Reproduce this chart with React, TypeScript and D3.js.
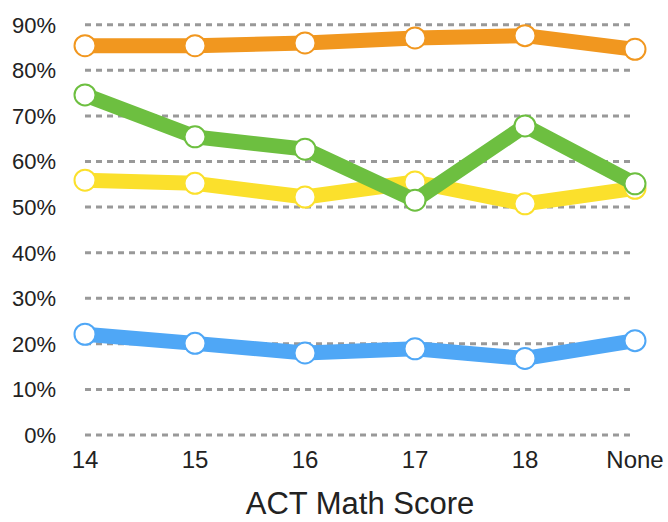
import * as d3 from 'd3';

const categories = ['14', '15', '16', '17', '18', 'None'];
const yTicks = [0, 0.1, 0.2, 0.3, 0.4, 0.5, 0.6, 0.7, 0.8, 0.9];

// series, drawn in this order
const blue = [0.221, 0.201, 0.18, 0.189, 0.168, 0.207];
const yellow = [0.559, 0.552, 0.522, 0.555, 0.507, 0.541];
const green = [0.746, 0.654, 0.627, 0.515, 0.678, 0.551];
const orange = [0.854, 0.854, 0.86, 0.871, 0.876, 0.846];

const seriesList = [
  { name: 'blue', color: '#4fa7f6', values: blue },
  { name: 'yellow', color: '#fbe02c', values: yellow },
  { name: 'green', color: '#6dbf40', values: green },
  { name: 'orange', color: '#f1971f', values: orange },
];

export default function App() {
  const width = 668;
  const height = 522;
  const font = '"Liberation Sans", Arial, sans-serif';

  const x = d3.scalePoint<string>().domain(categories).range([85, 635]);
  const y = d3.scaleLinear().domain([0, 0.9]).range([435, 24.7]);
  const fmt = d3.format('.0%');

  const line = d3
    .line<number>()
    .x((_, i) => x(categories[i])!)
    .y((d) => y(d));

  return (
    <svg
      width={width}
      height={height}
      style={{ position: 'absolute', left: 0, top: 0 }}
      fontFamily={font}
    >
      <rect width={width} height={height} fill='#fff' />
      {/* grid */}
      <g>
        {yTicks.map((t) => (
          <line
            key={t}
            x1={x.range()[0]}
            x2={x.range()[1]}
            y1={y(t)}
            y2={y(t)}
            stroke='#999'
            strokeWidth={3}
            strokeDasharray='6 5'
          />
        ))}
      </g>
      {/* y labels */}
      <g textAnchor='end' fontSize={22} fill='#222'>
        {yTicks.map((t) => (
          <text key={t} x={56} y={y(t)} dy='0.36em'>
            {fmt(t)}
          </text>
        ))}
      </g>
      {/* x labels */}
      <g textAnchor='middle' fontSize={24} fill='#222'>
        {categories.map((c) => (
          <text key={c} x={x(c)} y={468}>
            {c}
          </text>
        ))}
      </g>
      <text
        x={360}
        y={514}
        textAnchor='middle'
        fontSize={31}
        fill='#222'
      >
        ACT Math Score
      </text>
      {seriesList.map((s) => (
        <g key={s.name}>
          <path
            d={line(s.values) ?? ''}
            fill='none'
            stroke={s.color}
            strokeWidth={15}
            strokeLinejoin='round'
          />
          {s.values.map((v, i) => (
            <circle
              key={i}
              cx={x(categories[i])}
              cy={y(v)}
              r={10.5}
              fill='#fff'
              stroke={s.color}
              strokeWidth={2}
            />
          ))}
        </g>
      ))}
    </svg>
  );
}
